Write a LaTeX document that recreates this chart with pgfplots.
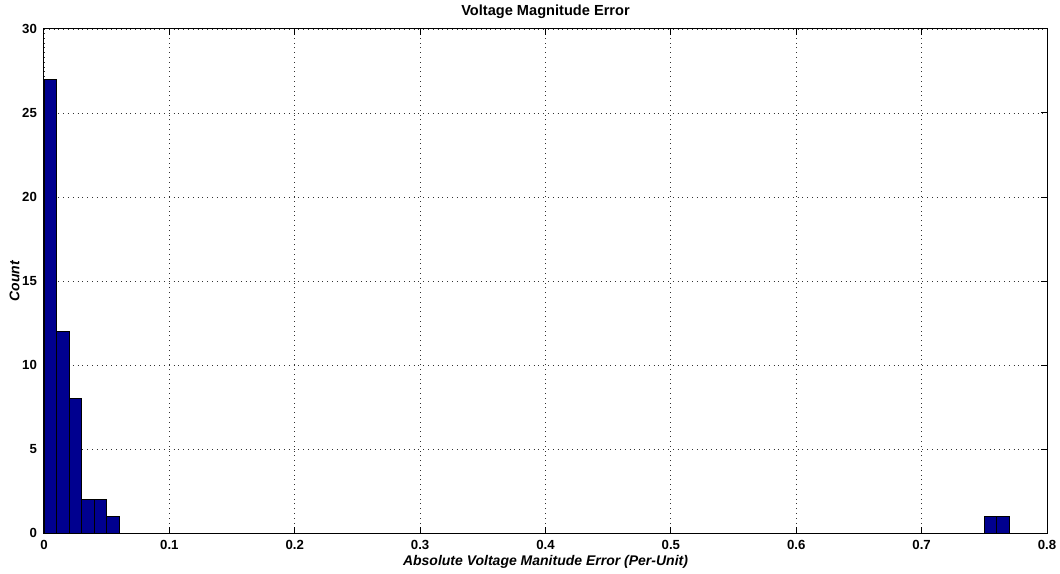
\documentclass[border=0pt]{standalone}
\usepackage{fontspec}
\setmainfont{Liberation Sans}
\usepackage{pgfplots}
\pgfplotsset{compat=1.18}
\definecolor{histblue}{rgb}{0,0,0.5625}

\begin{document}
\begin{tikzpicture}
\begin{axis}[
  scale only axis,
  width=501.5pt,
  height=252pt,
  xmin=0, xmax=0.8,
  ymin=0, ymax=30,
  xtick={0,0.1,...,0.8},
  ytick={0,5,...,30},
  xticklabel style={/pgf/number format/fixed},
  /pgf/number format/assume math mode=true,
  tick label style={font=\fontsize{6.6}{7}\selectfont\bfseries},
  tick align=inside,
  major tick length=3pt,
  tick style={black, line width=0.5pt},
  axis line style={black, line width=0.5pt},
  grid=major,
  major grid style={dotted, black!80, line width=0.45pt},
  title={Voltage Magnitude Error},
  title style={font=\fontsize{7.3}{8}\selectfont\bfseries, yshift=-4.5pt},
  xlabel={Absolute Voltage Manitude Error (Per-Unit)},
  ylabel={Count},
  label style={font=\fontsize{7}{8}\selectfont\bfseries\itshape},
  xlabel style={yshift=4pt},
  ylabel style={yshift=-5.5pt},
]
\addplot[ybar interval, fill=histblue, draw=black, line width=0.4pt]
  coordinates {(0,27) (0.01,12) (0.02,8) (0.03,2) (0.04,2) (0.05,1) (0.06,1)};
\addplot[ybar interval, fill=histblue, draw=black, line width=0.4pt]
  coordinates {(0.75,1) (0.76,1) (0.77,1)};
\end{axis}
% page margins as in the reference
\pgfresetboundingbox
\path ([xshift=-22pt,yshift=-20pt]current axis.south west)
  rectangle ([xshift=6.5pt,yshift=14.5pt]current axis.north east);
\end{tikzpicture}
\end{document}
